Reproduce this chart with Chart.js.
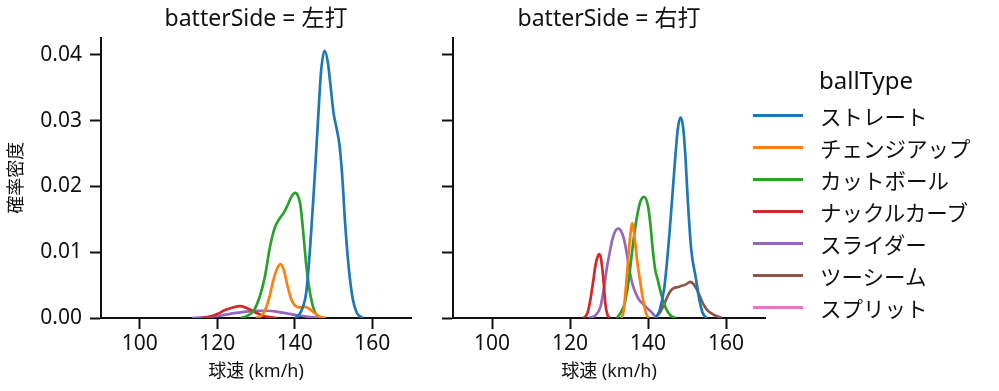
<!DOCTYPE html>
<html>
<head>
<meta charset="utf-8">
<script src="https://cdn.jsdelivr.net/npm/chart.js@4.4.1/dist/chart.umd.min.js"></script>
<style>
  html, body { margin: 0; padding: 0; background: #fff; }
  #wrap { position: relative; width: 999px; height: 391px; overflow: hidden; }
  .panel { position: absolute; top: 0; height: 391px; }
  #panel-left { left: 0; width: 430px; }
  #panel-right { left: 430px; width: 569px; }
  #legend {
    position: absolute; left: 753px; top: 64px; width: 226px;
    font-family: 'Noto Sans', 'Noto Sans CJK JP', sans-serif; color: #111;
  }
  #legend .title { height: 35px; line-height: 32px; font-size: 24px; text-align: center; }
  #legend .row { display: flex; align-items: center; height: 32px; font-size: 21.5px; }
  #legend .swatch { width: 50px; height: 3px; margin-right: 17px; flex: none; }
</style>
</head>
<body>
<div id="wrap">
  <div class="panel" id="panel-left"><canvas id="chart-left"></canvas></div>
  <div class="panel" id="panel-right"><canvas id="chart-right"></canvas></div>
  <div id="legend"></div>
</div>
<script>
// --- DATOS ---
const ballTypes = ['ストレート', 'チェンジアップ', 'カットボール', 'ナックルカーブ', 'スライダー', 'ツーシーム', 'スプリット'];
const colors = ['#1f77b4', '#ff7f0e', '#2ca02c', '#d62728', '#9467bd', '#8c564b', '#e377c2'];
const speedTicks = [100, 120, 140, 160];
const densityTicks = [0, 0.01, 0.02, 0.03, 0.04];

// 左打
const leftStraightX = [140.0, 141.0, 142.0, 143.0, 144.0, 145.0, 146.0, 146.8, 147.7, 148.5, 149.2, 150.0, 150.8, 151.5, 152.2, 153.0, 153.9, 155.0, 156.0, 157.5];
const leftStraightY = [0, 0.0004, 0.0015, 0.0040, 0.0110, 0.0200, 0.0300, 0.0375, 0.0406, 0.0390, 0.0355, 0.0312, 0.0288, 0.0265, 0.0220, 0.0144, 0.0078, 0.0028, 0.0008, 0];
const leftChangeX = [130.0, 131.5, 132.5, 133.5, 134.5, 135.5, 136.4, 137.2, 138.0, 139.0, 140.0, 141.0, 142.5, 143.5, 145.0, 146.5, 148.0];
const leftChangeY = [0, 0.0004, 0.0014, 0.0033, 0.0058, 0.0076, 0.0082, 0.0072, 0.0052, 0.0030, 0.0019, 0.0016, 0.0017, 0.0015, 0.0008, 0.0002, 0];
const leftCutX = [126.0, 128.0, 129.5, 131.0, 132.3, 133.6, 134.9, 136.2, 137.2, 138.2, 139.2, 140.1, 140.8, 141.5, 142.3, 143.1, 144.0, 145.0, 146.5];
const leftCutY = [0, 0.0004, 0.0012, 0.0033, 0.0063, 0.0108, 0.0138, 0.0152, 0.0160, 0.0172, 0.0185, 0.0190, 0.0186, 0.0170, 0.0123, 0.0073, 0.0036, 0.0012, 0];
const leftKnuckleX = [116.0, 118.0, 120.0, 122.0, 124.0, 126.0, 128.0, 130.0, 132.0, 134.0, 135.5];
const leftKnuckleY = [0, 0.0002, 0.0006, 0.0012, 0.0016, 0.0018, 0.0014, 0.0008, 0.0003, 0.0001, 0];
const leftSliderX = [113.5, 116.0, 120.0, 124.0, 128.0, 130.0, 133.0, 136.0, 139.0, 142.0, 145.0, 147.5];
const leftSliderY = [0, 0.0001, 0.0003, 0.0007, 0.0010, 0.0011, 0.0011, 0.0009, 0.0006, 0.0003, 0.0001, 0];

// 右打
const rightStraightX = [142.0, 143.0, 144.2, 145.5, 146.8, 147.6, 148.3, 149.0, 149.6, 150.2, 151.1, 152.2, 153.2, 154.0, 155.0];
const rightStraightY = [0, 0.0012, 0.0047, 0.0128, 0.0229, 0.0285, 0.0305, 0.0290, 0.0245, 0.0179, 0.0103, 0.0063, 0.0027, 0.0008, 0];
const rightChangeX = [133.2, 133.8, 134.3, 134.8, 135.4, 136.0, 136.6, 137.3, 138.0, 138.6, 139.5, 140.2];
const rightChangeY = [0, 0.0012, 0.0045, 0.0080, 0.0122, 0.0144, 0.0120, 0.0083, 0.0055, 0.0032, 0.0007, 0];
const rightCutX = [132.0, 133.0, 134.0, 135.0, 136.0, 137.0, 138.0, 139.0, 140.0, 140.6, 141.2, 141.8, 142.5, 143.3, 144.2, 145.2, 146.2, 147.2];
const rightCutY = [0, 0.0008, 0.0022, 0.0055, 0.0105, 0.0148, 0.0176, 0.0184, 0.0170, 0.0143, 0.0105, 0.0075, 0.0058, 0.0038, 0.0020, 0.0008, 0.0002, 0];
const rightKnuckleX = [123.5, 124.5, 125.2, 126.0, 126.6, 127.2, 127.6, 128.0, 128.5, 129.1, 129.6, 130.2];
const rightKnuckleY = [0, 0.0008, 0.0027, 0.0058, 0.0082, 0.0095, 0.0097, 0.0088, 0.0063, 0.0020, 0.0005, 0];
const rightSliderX = [124.8, 126.5, 127.8, 128.7, 129.5, 130.2, 130.8, 131.6, 132.4, 133.2, 133.8, 134.5, 135.1, 136.0, 136.9, 137.8, 138.6, 139.6, 140.7, 141.6, 142.5];
const rightSliderY = [0, 0.0004, 0.0017, 0.0045, 0.0078, 0.0100, 0.0118, 0.0132, 0.0136, 0.0131, 0.0121, 0.0100, 0.0078, 0.0052, 0.0037, 0.0027, 0.0022, 0.0016, 0.0010, 0.0004, 0];
const rightTwoSeamX = [141.6, 143.0, 144.2, 145.2, 145.9, 146.8, 147.7, 148.6, 149.4, 150.2, 150.9, 151.6, 152.4, 153.2, 154.1, 155.2, 156.3, 157.5, 158.9];
const rightTwoSeamY = [0, 0.0008, 0.0022, 0.0035, 0.0042, 0.0046, 0.0047, 0.0049, 0.0050, 0.0053, 0.0055, 0.0052, 0.0045, 0.0034, 0.0022, 0.0012, 0.0007, 0.0003, 0];

// --- ESTILO ---
const FONT = "'Noto Sans', 'Noto Sans CJK JP', sans-serif";
const INK = '#111';
Chart.defaults.font.family = FONT;
Chart.defaults.color = INK;

const series = (idx, xs, ys) => ({
    label: ballTypes[idx],
    data: xs.map((x, i) => ({ x, y: ys[i] })),
    borderColor: colors[idx],
    backgroundColor: colors[idx],
    borderWidth: 2.7,
    pointRadius: 0,
    fill: false,
    cubicInterpolationMode: 'monotone'
});

const makeOptions = (title, showY) => ({
    responsive: true,
    maintainAspectRatio: false,
    animation: false,
    layout: { padding: { left: 0, right: showY ? 19 : 234, top: 0, bottom: 0 } },
    plugins: {
        legend: { display: false },
        tooltip: { enabled: false },
        title: {
            display: true, text: title, fullSize: false, color: INK,
            font: { size: 23, weight: 'normal' }, padding: { top: 6, bottom: 4 }
        }
    },
    scales: {
        x: {
            type: 'linear', min: 90, max: 170,
            afterBuildTicks: s => { s.ticks = speedTicks.map(v => ({ value: v })); },
            afterFit: s => { s.height = 73; },
            border: { display: true, color: INK, width: 2 },
            grid: { drawOnChartArea: false, drawTicks: true, tickLength: 11, tickWidth: 2, tickColor: INK },
            ticks: { color: INK, font: { size: 21 }, padding: 2, maxRotation: 0 },
            title: { display: true, text: '球速 (km/h)', color: INK, font: { size: 18 }, padding: { top: 0, bottom: 8 } }
        },
        y: {
            min: 0, max: 0.0426,
            afterBuildTicks: s => { s.ticks = densityTicks.map(v => ({ value: v })); },
            afterFit: s => { s.width = showY ? 101 : 23; },
            border: { display: true, color: INK, width: 2 },
            grid: { drawOnChartArea: false, drawTicks: true, tickLength: 11, tickWidth: 2, tickColor: INK },
            ticks: { color: INK, font: { size: 21 }, padding: 8, callback: v => showY ? v.toFixed(2) : '' },
            title: { display: showY, text: '確率密度', color: INK, font: { size: 18 }, padding: { top: 6, bottom: 0 } }
        }
    }
});

new Chart(document.getElementById('chart-left'), {
    type: 'line',
    data: {
        datasets: [
            series(0, leftStraightX, leftStraightY),
            series(1, leftChangeX, leftChangeY),
            series(2, leftCutX, leftCutY),
            series(3, leftKnuckleX, leftKnuckleY),
            series(4, leftSliderX, leftSliderY)
        ]
    },
    options: makeOptions('batterSide = 左打', true)
});

new Chart(document.getElementById('chart-right'), {
    type: 'line',
    data: {
        datasets: [
            series(0, rightStraightX, rightStraightY),
            series(1, rightChangeX, rightChangeY),
            series(2, rightCutX, rightCutY),
            series(3, rightKnuckleX, rightKnuckleY),
            series(4, rightSliderX, rightSliderY),
            series(5, rightTwoSeamX, rightTwoSeamY),
            series(6, [], [])
        ]
    },
    options: makeOptions('batterSide = 右打', false)
});

// Leyenda (HTML)
const legend = document.getElementById('legend');
legend.innerHTML = '<div class="title">ballType</div>' + ballTypes.map((t, i) =>
    `<div class="row"><span class="swatch" style="background:${colors[i]}"></span><span>${t}</span></div>`
).join('');
</script>
</body>
</html>
